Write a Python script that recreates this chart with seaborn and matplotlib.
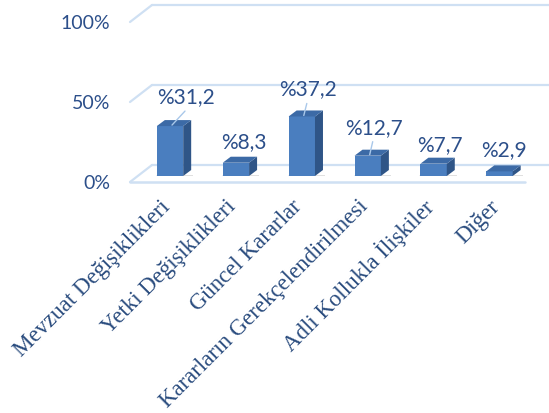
import matplotlib
matplotlib.use("Agg")
import matplotlib.pyplot as plt
import matplotlib.transforms as mtransforms
from matplotlib.patches import Polygon
import seaborn as sns
import pandas as pd

# ---- data ----
categories = ["Mevzuat Değişiklikleri", "Yetki Değişiklikleri", "Güncel Kararlar",
              "Kararların Gerekçelendirilmesi", "Adli Kollukla İlişkiler", "Diğer"]
values = [31.2, 8.3, 37.2, 12.7, 7.7, 2.9]
y_ticks = [0, 50, 100]
y_tick_labels = ["0%", "50%", "100%"]

# ---- layout / style ----
W, H, DPI = 549, 413, 100
FRONT = "#4a7ebf"
SIDE = "#2f5587"
TOP = "#3c6aa6"
GRID = "#cfe0f3"
TEXT = "#2c4f8a"
XTEXT = "#2a4c7e"
LEADER = "#a9c8ea"
# label offsets (pixels, relative to the bar's top-front centre) and leader flags
label_off = [(16, 29), (8, 21), (6, 27), (6, 28), (6, 19), (4, 21)]
leaders = [True, False, True, True, False, False]

sns.set_style("white")
plt.rcParams["font.family"] = ["Lato", "DejaVu Sans"]

fig = plt.figure(figsize=(W / DPI, H / DPI), dpi=DPI)
ax_left, ax_right, ax_bot, ax_top = 130, 525, 176, 16  # pixel box of the plot area
ax = fig.add_axes([ax_left / W, (H - ax_bot) / H, (ax_right - ax_left) / W, (ax_bot - ax_top) / H])

df = pd.DataFrame({"cat": categories, "val": values})
sns.barplot(data=df, x="cat", y="val", color=FRONT, saturation=1, width=0.4, ax=ax,
            edgecolor="none", zorder=3)

xmin, xmax = -0.607, 5.387
ax.set_xlim(xmin, xmax)
ax.set_ylim(0, 100)
sx = (xmax - xmin) / (ax_right - ax_left)   # data units per pixel (x)
sy = 100 / (ax_bot - ax_top)                # data units per pixel (y)

# 3D walls / gridlines
back_dx0 = xmin + 22 * sx
back_x1 = xmin + (549 - ax_left) * sx
for v in y_ticks:
    front_y = v - 6 * sy
    back_y = v + 11 * sy
    ax.plot([xmin, back_dx0], [front_y, back_y], color=GRID, lw=1.6, clip_on=False, zorder=1)
    ax.plot([back_dx0, back_x1], [back_y, back_y], color=GRID, lw=1.6, clip_on=False, zorder=1)
ax.plot([xmin, xmax], [-6 * sy, -6 * sy], color=GRID, lw=1.8, clip_on=False, zorder=1)

# 3D faces for each bar
ddx, ddy = 8 * sx, 6 * sy
for p in ax.patches[:len(values)]:
    x0, w, h = p.get_x(), p.get_width(), p.get_height()
    x1 = x0 + w
    side = Polygon([(x1, 0), (x1, h), (x1 + ddx, h + ddy), (x1 + ddx, ddy)],
                   closed=True, facecolor=SIDE, edgecolor="none", zorder=3)
    top = Polygon([(x0, h), (x1, h), (x1 + ddx, h + ddy), (x0 + ddx, h + ddy)],
                  closed=True, facecolor=TOP, edgecolor="none", zorder=3)
    ax.add_patch(side)
    ax.add_patch(top)
    # soft shadow at the base
    shadow = Polygon([(x0 - 1 * sx, 0), (x1 + ddx + 2 * sx, 0), (x1 + ddx + 2 * sx, 1.5 * sy + 0),
                      (x0, 1.5 * sy)], closed=True, facecolor="#d9d9d9", edgecolor="none",
                     zorder=2, alpha=0.8)
    ax.add_patch(shadow)

# data labels
for i, (p, v) in enumerate(zip(ax.patches[:len(values)], values)):
    cx = p.get_x() + p.get_width() / 2
    h = p.get_height()
    dx, dy = label_off[i]
    txt = "%" + f"{v:.1f}".replace(".", ",")
    ax.text(cx + dx * sx, h + dy * sy, txt, ha="center", va="center",
            fontsize=15, color=TEXT, zorder=5)
    if leaders[i]:
        ax.plot([cx + 2 * sx, cx + (dx - 1) * sx], [h + 1 * sy, h + (dy - 14) * sy],
                color=LEADER, lw=1.0, zorder=4, clip_on=False)

# axes cosmetics
for s in ax.spines.values():
    s.set_visible(False)
ax.set_xlabel("")
ax.set_ylabel("")
ax.set_yticks(y_ticks)
ax.set_yticklabels(y_tick_labels, fontsize=14, color=TEXT)
ax.tick_params(axis="y", length=0, pad=14)
shift = mtransforms.ScaledTranslation(0, -6 / DPI, fig.dpi_scale_trans)
for lbl in ax.get_yticklabels():
    lbl.set_transform(lbl.get_transform() + shift)

ax.set_xticks(range(len(categories)))
ax.set_xticklabels(categories, rotation=45, ha="right", va="center", rotation_mode="anchor",
                   fontsize=16.5, color=XTEXT, family=["Liberation Serif", "DejaVu Serif"])
ax.tick_params(axis="x", length=0, pad=20)
xshift = mtransforms.ScaledTranslation(-3 / DPI, 0, fig.dpi_scale_trans)
for lbl in ax.get_xticklabels():
    lbl.set_transform(lbl.get_transform() + xshift)
ax.grid(False)

fig.savefig("out.png", dpi=DPI)
